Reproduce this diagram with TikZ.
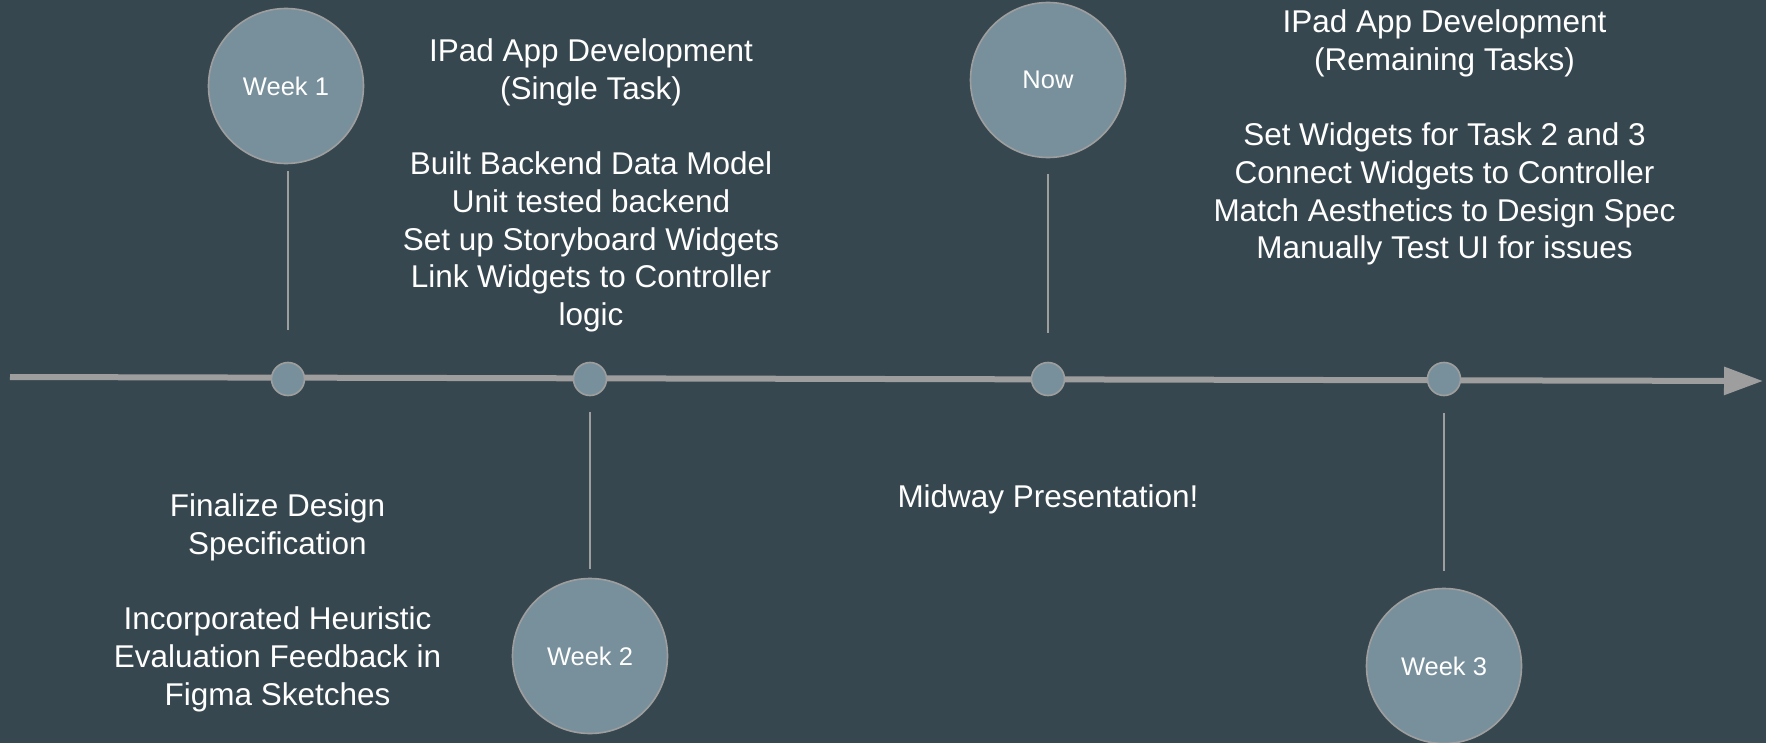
\documentclass[tikz,border=0pt]{standalone}
\usepackage{fontspec}
\setmainfont{Liberation Sans}
\usetikzlibrary{arrows.meta}
\definecolor{slatebg}{HTML}{37474F}
\definecolor{bubble}{HTML}{78909C}
\definecolor{rule}{HTML}{9E9E9E}

\begin{document}
\begin{tikzpicture}[x=0.5bp,y=-0.5bp,
  week/.style={circle,draw=rule,line width=0.8bp,fill=bubble,text=white,
    minimum size=77.5bp,inner sep=0pt,font=\fontsize{12.8}{15}\selectfont},
  dot/.style={circle,draw=rule,line width=0.8bp,fill=bubble,minimum size=16.5bp,inner sep=0pt},
  stem/.style={draw=rule,line width=0.75bp},
  notes/.style={text=white,align=center,inner sep=0pt,font=\fontsize{15.8}{18.9}\selectfont}]
\fill[slatebg] (0,0) rectangle (1766,743);
\useasboundingbox (0,0) rectangle (1766,743);

% time line
\coordinate (START) at (10,377);
\coordinate (END) at (1763,381);
\draw[rule,line width=3bp,-{Triangle[length=19.5bp,width=13.5bp]}] (START) -- (END);

\node[dot] (D1) at (288,379) {};
\node[dot] (D2) at (590,379) {};
\node[dot] (D3) at (1048,379) {};
\node[dot] (D4) at (1444,379) {};

\node[week] (W1) at (286,86) {Week 1};
\node[week] (W2) at (590,656) {Week 2};
\node[week] (NOW) at (1048,80) {Now};
\node[week] (W3) at (1444,666) {Week 3};

\draw[stem,shorten <=7*0.5bp,shorten >=32*0.5bp] (W1.south -| D1) -- (D1.north);
\draw[stem,shorten <=16*0.5bp,shorten >=9*0.5bp] (D2.south) -- (W2.north);
\draw[stem,shorten <=16*0.5bp,shorten >=29*0.5bp] (NOW.south) -- (D3.north);
\draw[stem,shorten <=17*0.5bp,shorten >=17*0.5bp] (D4.south) -- (W3.north);

\node[notes,anchor=north] (SINGLE) at (591,38.4) {IPad App Development\\(Single Task)\\[18.9bp]Built Backend Data Model\\Unit tested backend\\Set up Storyboard Widgets\\Link Widgets to Controller\\logic};
\node[notes,anchor=north] (REMAIN) at (1444.5,9.4) {IPad App Development\\(Remaining Tasks)\\[18.9bp]Set Widgets for Task 2 and 3\\Connect Widgets to Controller\\Match Aesthetics to Design Spec\\Manually Test UI for issues};
\node[notes,anchor=north] (DESIGN) at (277.5,493.4) {Finalize Design\\Specification\\[18.9bp]Incorporated Heuristic\\Evaluation Feedback in\\Figma Sketches};
\node[notes,anchor=base] (MIDWAY) at (1048,507) {Midway Presentation!};
\end{tikzpicture}
\end{document}
